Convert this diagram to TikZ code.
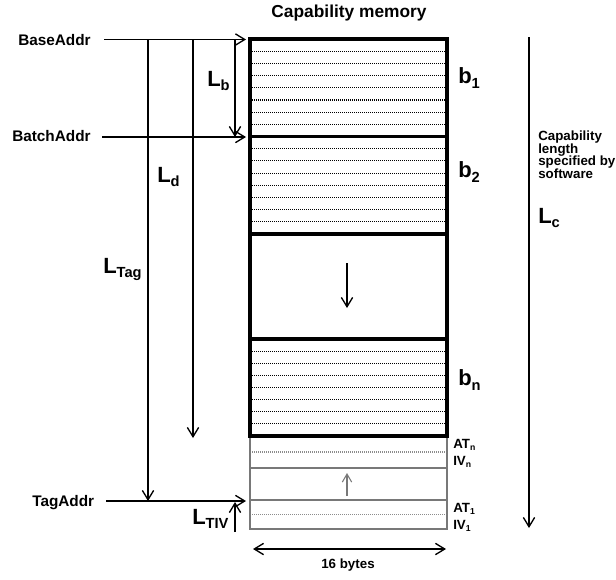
\documentclass[tikz,border=0pt]{standalone}
\usepackage{fontspec}
\setmainfont{Liberation Sans}
\usetikzlibrary{arrows.meta}
\definecolor{boxgray}{RGB}{120,120,120}
\definecolor{dotgray}{RGB}{140,140,140}
\newcommand{\biglab}[3]{{\fontsize{16.5}{16.5}\selectfont #1}\raisebox{-#3}{\fontsize{11}{11}\selectfont #2}}
\newcommand{\smalllab}[2]{{\fontsize{10}{10}\selectfont #1}\raisebox{-1.5pt}{\fontsize{6.5}{6.5}\selectfont #2}}
\begin{document}
\begin{tikzpicture}[x=0.75pt,y=-0.75pt,
  arr/.style={line width=1pt,-{Straight Barb[length=7pt,width=8.5pt]}},
  darr/.style={line width=1pt,{Straight Barb[length=7pt,width=8.5pt]}-{Straight Barb[length=7pt,width=8.5pt]}},
  garr/.style={line width=0.8pt,draw=boxgray,-{Straight Barb[length=6pt,width=7pt]}},
  blk/.style={draw=black,line width=2.4pt},
  gry/.style={draw=boxgray,line width=2.2pt},
  dots/.style={line width=0.85pt,dash pattern=on 0.75pt off 0.75pt},
  gdots/.style={line width=0.8pt,draw=dotgray,dash pattern=on 0.75pt off 0.75pt},
  addr/.style={font=\bfseries\fontsize{11.5}{12}\selectfont,inner sep=0pt,anchor=base west},
  lab/.style={font=\bfseries,inner sep=0pt,anchor=base west},
  note/.style={font=\bfseries\fontsize{10}{10}\selectfont,inner sep=0pt,anchor=base west}]
\useasboundingbox (0,0) rectangle (616,579);

% title
\node[font=\bfseries\fontsize{13}{13}\selectfont,inner sep=0pt,anchor=base] (title) at (349,17) {Capability memory};

% gray tag/IV boxes
\draw[gry] (250,436) rectangle (447,468);
\draw[gry] (250,468) rectangle (447,500);
\draw[gry] (250,500) rectangle (447,529);
\draw[gdots] (252,452) -- (445,452);
\draw[gdots] (252,514.5) -- (445,514.5);

% black batch boxes
\draw[blk] (250,39) rectangle (447,136.5);
\draw[blk] (250,136.5) rectangle (447,234);
\draw[blk] (250,234) rectangle (447,339);
\draw[blk] (250,339) rectangle (447,436);
\foreach \i in {1,...,7}{
  \draw[dots] (252,{39+\i*97.5/8}) -- (445,{39+\i*97.5/8});
  \draw[dots] (252,{136.5+\i*97.5/8}) -- (445,{136.5+\i*97.5/8});
  \draw[dots] (252,{339+\i*97/8}) -- (445,{339+\i*97/8});
}

% arrows inside boxes
\coordinate (dn1) at (347,263); \coordinate (dn2) at (347,308);
\draw[arr] (dn1) -- (dn2);
\coordinate (up1) at (347,496); \coordinate (up2) at (347,473);
\draw[garr] (up1) -- (up2);

% block labels
\node[lab] (b1) at (458,83) {\biglab{b}{1}{4pt}};
\node[lab] (b2) at (458,177) {\biglab{b}{2}{4pt}};
\node[lab] (bn) at (458,385) {\biglab{b}{n}{4pt}};
\node[lab] (atn) at (453,448) {\smalllab{AT}{n}};
\node[lab] (ivn) at (453,465) {\smalllab{IV}{n}};
\node[lab] (at1) at (453,512) {\smalllab{AT}{1}};
\node[lab] (iv1) at (453,529) {\smalllab{IV}{1}};

% address labels and arrows
\node[addr] (base) at (18,45) {BaseAddr};
\node[addr] (batch) at (12,141.5) {BatchAddr};
\node[addr] (tag) at (32,506) {TagAddr};
\coordinate (baseS) at (104,39.5); \coordinate (baseE) at (246,39.5);
\coordinate (batchS) at (102,137); \coordinate (batchE) at (246,137);
\coordinate (tagS) at (106,501); \coordinate (tagE) at (246,501);
\draw[arr] (baseS) -- (baseE);
\draw[arr] (batchS) -- (batchE);
\draw[arr] (tagS) -- (tagE);

% length arrows
\coordinate (tagT) at (148,39.5); \coordinate (tagB) at (148,501);
\coordinate (dT) at (193,39.5); \coordinate (dB) at (193,438);
\coordinate (bT) at (235,39.5); \coordinate (bB) at (235,137);
\coordinate (tivB) at (235,532); \coordinate (tivT) at (235,502);
\draw[arr] (tagT) -- (tagB);
\draw[arr] (dT) -- (dB);
\draw[arr] (bT) -- (bB);
\draw[arr] (tivB) -- (tivT);

\node[lab] (Lb) at (207,86) {\biglab{L}{b}{3.5pt}};
\node[lab] (Ld) at (157,182) {\biglab{L}{d}{3.5pt}};
\node[lab] (Ltag) at (103,273) {\biglab{L}{Tag}{3.5pt}};
\node[lab] (Ltiv) at (192,524) {\biglab{L}{TIV}{3.5pt}};

% capability length
\coordinate (cT) at (529,37); \coordinate (cB) at (529,528);
\draw[arr] (cT) -- (cB);
\node[note] (c1) at (538,140.5) {Capability};
\node[note] (c2) at (538,153) {length};
\node[note] (c3) at (538,165.5) {specified by};
\node[note] (c4) at (538,178) {software};
\node[lab] (Lc) at (538,223) {\biglab{L}{c}{3pt}};

% 16 bytes
\coordinate (wL) at (253,549); \coordinate (wR) at (446,549);
\draw[darr] (wL) -- (wR);
\node[note,anchor=base] (bytes) at (348,568) {16 bytes};
\end{tikzpicture}
\end{document}
